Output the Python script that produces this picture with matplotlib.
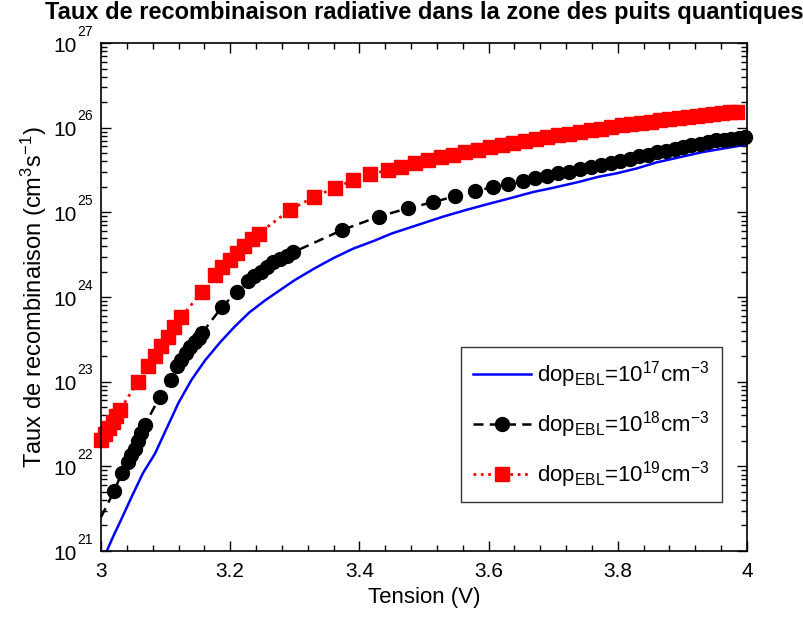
import numpy as np
import matplotlib
matplotlib.use('Agg')
import matplotlib.pyplot as plt
from matplotlib.ticker import AutoMinorLocator, LogLocator, NullFormatter, FixedLocator

plt.rcParams['font.family'] = ['Liberation Sans', 'DejaVu Sans']
plt.rcParams['mathtext.fontset'] = 'custom'
plt.rcParams['mathtext.rm'] = 'Liberation Sans'
plt.rcParams['mathtext.it'] = 'Liberation Sans'

# dop EBL = 1e17 (ligne bleue) : tension (V) et log10 du taux
v_17 = [2.995, 3.009, 3.02, 3.03, 3.0475, 3.065, 3.0836, 3.10, 3.12, 3.140,
        3.161, 3.185, 3.207, 3.23, 3.254, 3.275, 3.300, 3.331, 3.36, 3.39,
        3.4215, 3.45, 3.49, 3.53, 3.566, 3.60, 3.635, 3.669, 3.70, 3.74,
        3.77, 3.798, 3.83, 3.86, 3.901, 3.93, 3.96, 4.0]
log_r_17 = [20.90, 21.00, 21.19, 21.35, 21.64, 21.92, 22.15, 22.42, 22.75, 23.02,
            23.25, 23.47, 23.65, 23.82, 23.96, 24.07, 24.20, 24.34, 24.46, 24.57,
            24.66, 24.75, 24.85, 24.95, 25.03, 25.10, 25.17, 25.24, 25.29, 25.36,
            25.42, 25.46, 25.52, 25.59, 25.66, 25.71, 25.75, 25.80]

# dop EBL = 1e18 (cercles noirs)
v_18 = [3.0, 3.0206, 3.032, 3.042, 3.047, 3.052, 3.057, 3.062, 3.068, 3.091,
        3.108, 3.117, 3.124, 3.131, 3.138, 3.145, 3.151, 3.156, 3.187, 3.210,
        3.227, 3.237, 3.247, 3.257, 3.267, 3.277, 3.288, 3.298, 3.373, 3.430,
        3.476, 3.514, 3.548, 3.579, 3.607, 3.630, 3.653, 3.672, 3.690, 3.708,
        3.725, 3.742, 3.758, 3.774, 3.789, 3.804, 3.819, 3.833, 3.847, 3.861,
        3.875, 3.888, 3.901, 3.914, 3.927, 3.940, 3.952, 3.964, 3.976, 3.988,
        3.997]
log_r_18 = [21.40, 21.71, 21.92, 22.05, 22.13, 22.21, 22.30, 22.39, 22.49, 22.82,
            23.02, 23.18, 23.26, 23.34, 23.41, 23.47, 23.52, 23.57, 23.88, 24.06,
            24.19, 24.25, 24.30, 24.36, 24.41, 24.45, 24.49, 24.53, 24.79, 24.95,
            25.05, 25.12, 25.19, 25.25, 25.30, 25.33, 25.37, 25.41, 25.43, 25.46,
            25.48, 25.51, 25.53, 25.56, 25.58, 25.61, 25.63, 25.66, 25.68, 25.71,
            25.73, 25.75, 25.77, 25.79, 25.81, 25.83, 25.85, 25.86, 25.87, 25.88,
            25.89]

# dop EBL = 1e19 (carres rouges)
v_19 = [3.0, 3.006, 3.012, 3.018, 3.024, 3.029, 3.057, 3.073, 3.083, 3.093,
        3.103, 3.113, 3.124, 3.156, 3.176, 3.188, 3.200, 3.211, 3.222, 3.233,
        3.244, 3.293, 3.329, 3.362, 3.390, 3.417, 3.445, 3.465, 3.486, 3.506,
        3.526, 3.545, 3.564, 3.583, 3.602, 3.620, 3.638, 3.656, 3.674, 3.691,
        3.708, 3.725, 3.742, 3.758, 3.774, 3.790, 3.806, 3.821, 3.836, 3.851,
        3.866, 3.880, 3.894, 3.908, 3.922, 3.935, 3.948, 3.961, 3.973, 3.985]
log_r_19 = [22.31, 22.38, 22.45, 22.52, 22.59, 22.66, 23.00, 23.18, 23.30, 23.42,
            23.53, 23.65, 23.76, 24.06, 24.26, 24.35, 24.44, 24.52, 24.60, 24.68,
            24.75, 25.03, 25.18, 25.29, 25.38, 25.45, 25.50, 25.54, 25.58, 25.62,
            25.65, 25.68, 25.71, 25.74, 25.77, 25.79, 25.82, 25.84, 25.87, 25.89,
            25.91, 25.93, 25.95, 25.97, 25.99, 26.01, 26.03, 26.04, 26.06, 26.07,
            26.09, 26.10, 26.11, 26.13, 26.14, 26.15, 26.16, 26.17, 26.18, 26.19]

y_exposants = [21, 22, 23, 24, 25, 26, 27]
x_ticks = [3, 3.2, 3.4, 3.6, 3.8, 4]
x_labels = ['3', '3.2', '3.4', '3.6', '3.8', '4']

labels = [r'dop$_{\mathregular{EBL}}$=10$^{\mathregular{17}}$cm$^{\mathregular{-3}}$',
          r'dop$_{\mathregular{EBL}}$=10$^{\mathregular{18}}$cm$^{\mathregular{-3}}$',
          r'dop$_{\mathregular{EBL}}$=10$^{\mathregular{19}}$cm$^{\mathregular{-3}}$']

fig = plt.figure(figsize=(8.04, 6.19), dpi=100)
ax = fig.add_axes([0.1256, 0.1099, 0.8035, 0.8206])

ax.plot(v_17, np.power(10.0, log_r_17), '-', color='#0000ff', lw=1.8, label=labels[0])
ax.plot(v_18, np.power(10.0, log_r_18), '--', color='k', lw=1.8, dashes=(4, 2.5),
        marker='o', ms=10, markevery=list(range(1, len(v_18))), clip_on=False, label=labels[1])
ax.plot(v_19, np.power(10.0, log_r_19), ':', color='#ff0000', lw=2,
        marker='s', ms=10.5, clip_on=False, label=labels[2])

ax.set_yscale('log')
ax.set_xlim(3, 4)
ax.set_ylim(1e21, 1e27)
ax.set_xticks(x_ticks)
ax.set_xticklabels(x_labels)
ax.xaxis.set_minor_locator(AutoMinorLocator(5))
ax.yaxis.set_major_locator(FixedLocator([10.0 ** e for e in y_exposants]))
ax.yaxis.set_minor_locator(LogLocator(base=10, subs=np.arange(2, 10), numticks=20))
ax.yaxis.set_minor_formatter(NullFormatter())
ax.set_yticklabels([])
ax.tick_params(which='both', direction='in', top=True, right=True, labelsize=15, width=1)
ax.tick_params(which='major', length=7)
ax.tick_params(axis='x', which='major', pad=8)
ax.tick_params(which='minor', length=4)
for s in ax.spines.values():
    s.set_linewidth(1.2)

# etiquettes de l'axe y facon MATLAB : 10 puis exposant bien surélevé
for e in y_exposants:
    ax.annotate('10', xy=(0, 10.0 ** e), xycoords=('axes fraction', 'data'),
                xytext=(-17.5, -6.3), textcoords='offset points',
                ha='right', va='baseline', fontsize=15)
    ax.annotate(str(e), xy=(0, 10.0 ** e), xycoords=('axes fraction', 'data'),
                xytext=(-16.8, 5.2), textcoords='offset points',
                ha='left', va='baseline', fontsize=10)

ax.set_title('Taux de recombinaison radiative dans la zone des puits quantiques',
             fontsize=17, fontweight='bold', pad=17)
ax.set_xlabel('Tension (V)', fontsize=16, labelpad=4)
ax.set_ylabel(r'Taux de recombinaison (cm$^{\mathregular{3}}$s$^{\mathregular{-1}}$)',
              fontsize=17, labelpad=34)

leg = ax.legend(loc='lower right', bbox_to_anchor=(0.961, 0.096), fontsize=16,
                frameon=True, fancybox=False, edgecolor='k', handlelength=2.6,
                handletextpad=0.3, borderpad=0.55, labelspacing=0.85, numpoints=1,
                borderaxespad=0)
leg.get_frame().set_linewidth(1)

plt.savefig('out.png', dpi=100)
